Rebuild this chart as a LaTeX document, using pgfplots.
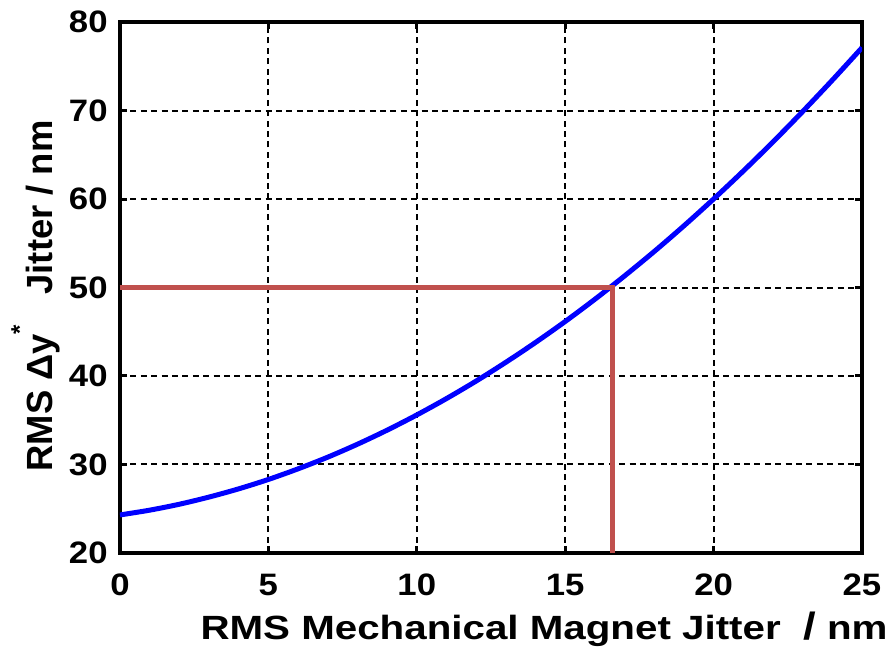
\documentclass[border=0pt]{standalone}
\usepackage{fontspec}
\setmainfont{Liberation Sans}
\newfontfamily\tickfont[FakeStretch=1.12]{Liberation Sans}
\newfontfamily\xlabfont[FakeStretch=1.2]{Liberation Sans}
\usepackage{pgfplots}
\pgfplotsset{compat=1.18}
\usetikzlibrary{calc}
\definecolor{workred}{RGB}{192,80,77}

\begin{document}
\begin{tikzpicture}
\begin{axis}[
  scale only axis,
  width=371pt, height=265.5pt,
  xmin=0, xmax=25, ymin=20, ymax=80,
  xtick={0,5,...,25}, ytick={20,30,...,80},
  tick align=inside,
  major tick length=3.5pt,
  every tick/.style={black, line width=1.5pt},
  axis line style={black, line width=2.2pt},
  grid=major,
  grid style={black, line width=1pt, dash pattern=on 3pt off 2.2pt},
  /pgf/number format/assume math mode=true,
  tick label style={font=\tickfont\bfseries\fontsize{15.5}{15.5}\selectfont, inner sep=0pt},
  xticklabel style={anchor=base, yshift=-21.5pt},
  yticklabel style={anchor=east, xshift=-6pt},
  xlabel={RMS Mechanical Magnet Jitter\ \ {\fontsize{19}{19}\selectfont/}\ nm},
  xlabel style={at={(rel axis cs:1.035,-0.1638)}, anchor=base east,
    inner sep=0pt, font=\xlabfont\bfseries\fontsize{16.8}{16.8}\selectfont},
  ylabel={RMS Δy\raisebox{1.25ex}{\fontsize{12}{12}\selectfont *}\ \ \ Jitter / nm},
  ylabel style={at={(rel axis cs:-0.0916,0.8154)}, anchor=base east,
    inner sep=0pt, font=\bfseries\fontsize{18.2}{18.2}\selectfont},
]
% vertical beam jitter versus mechanical magnet jitter
\addplot[blue, line width=2.5pt, smooth] coordinates {
  (0,24.30) (1,24.84) (2,25.51) (3,26.32) (4,27.25) (5,28.31)
  (6,29.51) (7,30.83) (8,32.29) (9,33.88) (10,35.60) (11,37.45)
  (12,39.43) (13,41.55) (14,43.79) (15,46.16) (16,48.67) (17,51.31)
  (18,54.07) (19,56.97) (20,60.00) (21,63.16) (22,66.45) (23,69.88)
  (24,73.43) (25,77.10)
};
% 50 nm tolerance and the corresponding magnet jitter
\addplot[workred, line width=2.2pt, line join=miter] coordinates {
  (0,50) (16.6,50) (16.6,20)
};
\end{axis}
\pgfresetboundingbox
\path[use as bounding box]
  ($(current axis.south west)+(-60pt,-49.5pt)$) rectangle
  ($(current axis.north east)+(16pt,11pt)$);
\end{tikzpicture}
\end{document}
